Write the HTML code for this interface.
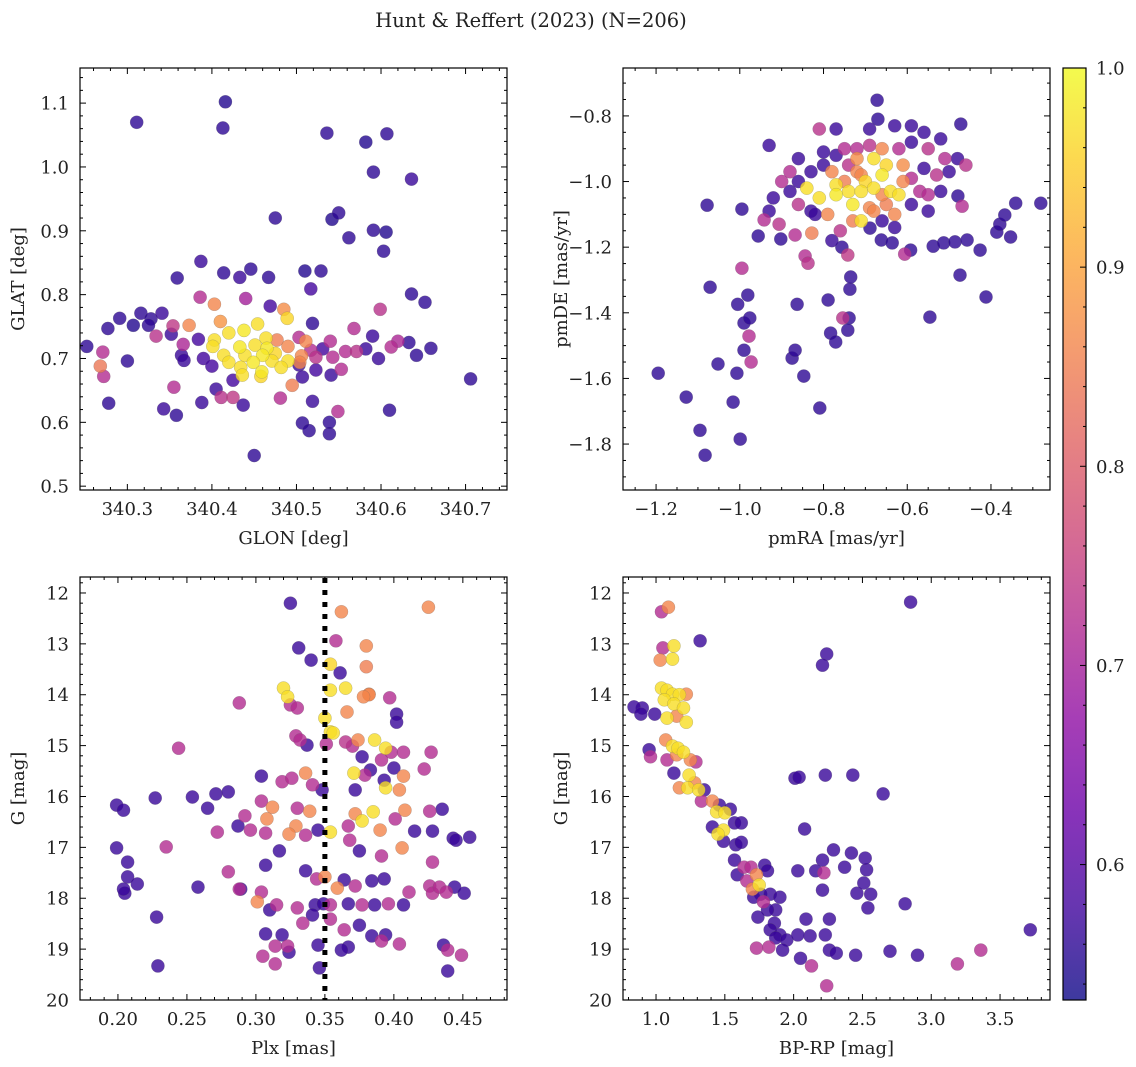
<!DOCTYPE html>
<html><head><meta charset="utf-8">
<style>
html,body{margin:0;padding:0;background:#fff;}
svg{display:block;font-family:"DejaVu Serif","Liberation Serif",serif;}
</style></head>
<body>
<svg id="fig" width="1136" height="1067" viewBox="0 0 1136 1067">
<text x="531" y="27" text-anchor="middle" font-size="19.5" fill="#222">Hunt &amp; Reffert (2023) (N=206)</text>
</svg>
<script>
// ---- Colour scale ----
const cbTicks = [0.6, 0.7, 0.8, 0.9, 1.0];
const vMin = 0.532, vMax = 1.0;

// ---- Panel: GLON / GLAT ----
const tlX = [340.311,340.416,340.413,340.536,340.582,340.607,340.591,340.636,340.475,340.542,340.550,340.562,340.591,340.606,340.603,340.387,340.359,340.414,340.433,340.446,340.467,340.510,340.529,340.517,340.636,340.652,340.386,340.403,340.440,340.469,340.599,340.485,340.291,340.316,340.328,340.341,340.354,340.373,340.410,340.454,340.489,340.519,340.568,340.277,340.307,340.325,340.334,340.352,340.384,340.403,340.420,340.438,340.464,340.477,340.503,340.511,340.540,340.590,340.620,340.633,340.252,340.366,340.401,340.433,340.451,340.465,340.475,340.490,340.517,340.531,340.558,340.571,340.582,340.612,340.659,340.271,340.364,340.390,340.414,340.439,340.460,340.490,340.506,340.523,340.543,340.597,340.642,340.300,340.420,340.449,340.471,340.504,340.367,340.523,340.553,340.268,340.400,340.434,340.459,340.482,340.503,340.272,340.436,340.458,340.541,340.706,340.355,340.405,340.425,340.495,340.507,340.388,340.411,340.425,340.437,340.481,340.278,340.358,340.343,340.519,340.610,340.507,340.515,340.539,340.539,340.549,340.450];
const tlY = [1.070,1.102,1.061,1.053,1.039,1.052,0.992,0.981,0.920,0.918,0.928,0.889,0.901,0.898,0.868,0.852,0.826,0.834,0.827,0.840,0.827,0.837,0.837,0.809,0.801,0.788,0.796,0.785,0.794,0.782,0.777,0.777,0.763,0.771,0.762,0.771,0.751,0.752,0.758,0.754,0.763,0.755,0.747,0.747,0.752,0.752,0.735,0.738,0.730,0.729,0.740,0.744,0.732,0.729,0.733,0.727,0.727,0.735,0.727,0.725,0.719,0.722,0.719,0.718,0.721,0.716,0.708,0.719,0.713,0.715,0.711,0.711,0.715,0.718,0.716,0.710,0.705,0.700,0.705,0.705,0.705,0.696,0.704,0.702,0.702,0.700,0.705,0.696,0.694,0.694,0.696,0.694,0.697,0.682,0.683,0.688,0.688,0.686,0.679,0.686,0.690,0.672,0.674,0.672,0.674,0.668,0.655,0.652,0.666,0.658,0.671,0.631,0.639,0.639,0.627,0.638,0.630,0.611,0.621,0.633,0.619,0.599,0.587,0.582,0.600,0.617,0.548];
const tlP = [0.56,0.55,0.56,0.56,0.55,0.56,0.56,0.57,0.56,0.55,0.56,0.56,0.56,0.55,0.56,0.57,0.56,0.56,0.57,0.56,0.56,0.55,0.56,0.58,0.56,0.56,0.72,0.86,0.70,0.58,0.73,0.87,0.56,0.56,0.56,0.57,0.74,0.86,0.88,0.97,0.96,0.56,0.72,0.56,0.55,0.56,0.73,0.57,0.58,0.97,0.97,0.98,0.97,0.85,0.72,0.86,0.72,0.57,0.71,0.56,0.56,0.71,0.97,0.98,0.97,0.98,0.96,0.86,0.72,0.58,0.72,0.73,0.57,0.72,0.56,0.72,0.57,0.58,0.97,0.97,0.98,0.97,0.86,0.73,0.72,0.57,0.56,0.56,0.97,0.98,0.97,0.86,0.57,0.58,0.72,0.84,0.58,0.97,0.98,0.97,0.57,0.72,0.97,0.96,0.57,0.56,0.72,0.57,0.58,0.85,0.57,0.57,0.73,0.74,0.57,0.72,0.56,0.56,0.57,0.57,0.56,0.56,0.56,0.56,0.56,0.72,0.56];

// ---- Panel: pmRA / pmDE ----
const trX = [-1.195,-1.128,-1.095,-1.083,-1.078,-1.071,-1.052,-0.990,-1.016,-1.007,-1.005,-0.981,-0.999,-0.990,-0.976,-0.978,-0.995,-0.973,-0.956,-0.995,-0.942,-0.906,-0.902,-0.868,-0.875,-0.868,-0.847,-0.863,-0.844,-0.837,-0.828,-0.809,-0.789,-0.783,-0.771,-0.739,-0.737,-0.735,-0.742,-0.754,-0.742,-0.756,-0.689,-0.662,-0.636,-0.606,-0.592,-0.538,-0.513,-0.486,-0.474,-0.457,-0.426,-0.386,-0.379,-0.367,-0.341,-0.281,-0.353,-0.412,-0.546,-0.479,-0.472,-0.469,-0.672,
 -0.84,-0.81,-0.77,-0.77,-0.74,-0.73,-0.71,-0.70,-0.68,-0.66,-0.68,-0.65,-0.72,-0.75,-0.78,-0.72,-0.66,-0.65,-0.63,-0.61,-0.61,-0.69,-0.73,-0.79,-0.76,-0.83,-0.64,-0.62,-0.59,-0.57,-0.52,-0.53,-0.56,-0.50,-0.48,-0.51,-0.55,-0.59,-0.62,-0.66,-0.69,-0.72,-0.75,-0.77,-0.80,-0.83,-0.86,-0.88,-0.90,-0.92,-0.93,-0.74,-0.71,-0.68,-0.71,-0.66,-0.63,-0.78,-0.82,-0.86,-0.86,-0.88,-0.59,-0.55,-0.55,-0.46,-0.52,-0.56,-0.77,-0.81,-0.67,-0.63,-0.69,-0.59,-0.93,-0.80];
const trY = [-1.584,-1.657,-1.758,-1.834,-1.072,-1.322,-1.556,-1.514,-1.672,-1.584,-1.374,-1.346,-1.785,-1.431,-1.416,-1.471,-1.264,-1.550,-1.166,-1.084,-1.117,-1.130,-1.175,-1.163,-1.538,-1.514,-1.593,-1.374,-1.227,-1.249,-1.157,-1.690,-1.361,-1.462,-1.489,-1.416,-1.328,-1.291,-1.453,-1.416,-1.224,-1.200,-1.142,-1.178,-1.187,-1.221,-1.209,-1.197,-1.187,-1.184,-1.285,-1.178,-1.209,-1.154,-1.130,-1.102,-1.066,-1.066,-1.169,-1.352,-1.413,-1.044,-0.825,-1.075,-0.752,
 -1.02,-1.05,-1.04,-1.01,-1.03,-1.07,-1.03,-1.00,-1.02,-0.98,-0.93,-0.95,-0.97,-1.00,-0.97,-0.93,-1.04,-1.07,-1.10,-1.00,-0.95,-1.08,-1.12,-1.10,-1.15,-1.09,-1.03,-1.04,-0.99,-1.03,-1.03,-0.98,-0.96,-0.97,-0.93,-0.93,-0.90,-0.88,-0.90,-0.90,-0.89,-0.90,-0.90,-0.92,-0.95,-0.97,-1.00,-1.03,-1.00,-1.05,-1.09,-0.95,-0.98,-1.09,-1.12,-1.12,-1.14,-1.18,-1.10,-1.07,-0.93,-0.97,-1.07,-1.09,-1.04,-0.95,-0.87,-0.85,-0.84,-0.84,-0.81,-0.83,-0.84,-0.83,-0.89,-0.91];
const trP = [0.56,0.56,0.56,0.56,0.56,0.56,0.56,0.56,0.56,0.56,0.56,0.56,0.56,0.56,0.56,0.72,0.72,0.72,0.56,0.56,0.72,0.73,0.56,0.72,0.56,0.56,0.56,0.56,0.72,0.73,0.85,0.56,0.56,0.56,0.56,0.56,0.56,0.56,0.56,0.73,0.74,0.56,0.56,0.56,0.56,0.72,0.56,0.56,0.56,0.56,0.56,0.56,0.56,0.56,0.56,0.56,0.56,0.56,0.56,0.56,0.56,0.56,0.56,0.72,0.56,
 0.97,0.97,0.98,0.97,0.97,0.98,0.97,0.96,0.97,0.98,0.97,0.96,0.86,0.85,0.86,0.87,0.86,0.85,0.86,0.86,0.87,0.86,0.85,0.86,0.73,0.57,0.97,0.97,0.72,0.72,0.57,0.73,0.57,0.57,0.57,0.72,0.73,0.57,0.72,0.86,0.73,0.72,0.72,0.57,0.57,0.57,0.57,0.57,0.72,0.57,0.57,0.73,0.86,0.86,0.97,0.57,0.57,0.57,0.57,0.73,0.57,0.72,0.57,0.57,0.72,0.73,0.57,0.57,0.57,0.73,0.56,0.57,0.57,0.57,0.57,0.57];

// ---- Panel: Plx / G ----
const blX = [0.325,0.362,0.425,0.331,0.340,0.354,0.358,0.361,0.325,0.354,0.365,0.380,0.380,0.382,0.320,0.323,0.288,0.350,0.366,0.354,0.330,0.382,0.378,0.397,0.402,0.402,0.356,0.351,0.337,0.329,0.332,0.244,0.374,0.365,0.370,0.386,0.394,0.391,0.377,0.398,0.407,0.427,0.400,0.383,0.371,0.379,0.394,0.372,0.404,0.393,0.407,0.422,0.271,0.304,0.319,0.326,0.336,0.304,0.341,0.348,0.254,0.227,0.199,0.204,0.280,0.265,0.292,0.312,0.308,0.296,0.329,0.330,0.339,0.367,0.372,0.377,0.385,0.390,0.401,0.408,0.426,0.428,0.443,0.455,0.415,0.435,0.272,0.287,0.307,0.317,0.324,0.336,0.345,0.354,0.368,0.375,0.391,0.406,0.428,0.445,0.199,0.235,0.258,0.280,0.307,0.207,0.207,0.205,0.214,0.204,0.288,0.304,0.336,0.344,0.350,0.359,0.364,0.372,0.384,0.393,0.411,0.426,0.428,0.228,0.289,0.301,0.310,0.315,0.330,0.343,0.349,0.354,0.367,0.377,0.386,0.396,0.407,0.433,0.438,0.444,0.451,0.307,0.319,0.334,0.341,0.354,0.364,0.375,0.384,0.394,0.314,0.323,0.324,0.345,0.346,0.367,0.391,0.404,0.436,0.229,0.305,0.314,0.362,0.439,0.449,0.439];
const blY = [12.20,12.37,12.28,13.08,13.32,13.40,12.94,13.57,14.20,13.91,13.87,13.04,13.45,13.99,13.87,14.04,14.16,14.46,14.34,14.73,14.26,14.00,14.04,14.06,14.38,14.54,14.75,14.97,14.99,14.81,14.89,15.05,14.89,14.93,15.01,14.89,15.05,15.28,15.22,15.13,15.13,15.13,15.44,15.48,15.54,15.58,15.83,15.87,15.87,15.68,15.60,15.46,15.95,15.60,15.71,15.64,15.54,16.09,15.77,15.87,16.01,16.03,16.17,16.27,15.91,16.23,16.38,16.21,16.44,16.66,16.58,16.23,16.29,16.58,16.34,16.48,16.30,16.66,16.44,16.27,16.29,16.68,16.82,16.80,16.68,16.25,16.70,16.58,16.72,17.07,16.74,16.76,16.66,16.70,16.86,17.07,17.17,17.01,17.29,16.86,17.01,16.99,17.78,17.48,17.35,17.29,17.58,17.90,17.72,17.82,17.82,17.88,17.46,17.62,17.58,17.80,17.64,17.76,17.66,17.62,17.88,17.76,17.90,18.37,17.82,18.07,18.23,18.13,18.19,18.13,18.11,18.13,18.11,18.13,18.13,18.11,18.13,17.78,17.88,17.78,17.90,18.70,18.72,18.49,18.33,18.41,18.62,18.53,18.74,18.72,18.94,18.94,19.06,18.92,19.37,18.96,18.84,18.90,18.92,19.33,19.14,19.29,19.02,19.02,19.12,19.43,19.72];
const blP = [0.57,0.86,0.86,0.57,0.57,0.96,0.72,0.57,0.72,0.97,0.97,0.86,0.85,0.86,0.97,0.97,0.72,0.97,0.86,0.97,0.72,0.86,0.86,0.72,0.57,0.57,0.97,0.72,0.57,0.72,0.72,0.72,0.86,0.73,0.72,0.97,0.97,0.72,0.57,0.72,0.72,0.72,0.57,0.57,0.97,0.72,0.97,0.57,0.86,0.57,0.86,0.72,0.57,0.57,0.72,0.72,0.86,0.72,0.72,0.57,0.57,0.57,0.57,0.57,0.57,0.57,0.72,0.86,0.86,0.72,0.86,0.72,0.86,0.72,0.86,0.97,0.97,0.86,0.72,0.86,0.72,0.57,0.57,0.57,0.57,0.57,0.72,0.57,0.72,0.57,0.86,0.72,0.57,0.97,0.72,0.57,0.72,0.86,0.72,0.57,0.57,0.72,0.57,0.72,0.57,0.57,0.57,0.57,0.57,0.57,0.72,0.72,0.57,0.72,0.86,0.86,0.57,0.72,0.57,0.57,0.72,0.72,0.72,0.57,0.57,0.86,0.57,0.72,0.72,0.57,0.57,0.72,0.57,0.72,0.57,0.72,0.57,0.72,0.72,0.57,0.57,0.57,0.57,0.72,0.57,0.72,0.72,0.57,0.57,0.57,0.72,0.72,0.57,0.57,0.57,0.57,0.72,0.72,0.57,0.57,0.72,0.72,0.57,0.72,0.72,0.57,0.72,0.57,0.72];

// ---- Panel: BP-RP / G ----
const brX = [1.04,1.09,1.05,1.13,1.03,1.12,1.32,1.04,1.08,1.12,1.17,1.22,1.06,1.13,1.20,0.90,0.99,1.08,1.15,1.22,1.07,1.12,1.16,1.20,1.15,0.96,1.08,1.25,1.29,0.95,1.13,1.24,1.28,1.23,1.31,1.35,1.17,1.41,1.46,1.33,1.44,1.50,1.54,1.49,1.45,1.41,1.57,1.62,1.49,1.58,1.62,1.57,1.64,1.59,1.69,1.73,1.66,1.75,1.79,1.81,1.70,1.76,1.83,1.71,1.90,1.87,1.81,1.78,1.74,1.86,1.83,1.90,1.87,1.95,1.82,1.73,1.92,2.12,2.03,2.23,2.26,2.09,2.26,2.13,2.05,2.24,2.31,2.45,0.84,0.89,
 2.24,2.21,2.01,2.04,2.23,2.08,2.65,2.43,2.37,2.21,2.16,2.22,2.03,2.29,2.42,2.46,2.51,2.53,2.56,2.54,2.21,2.52,2.70,2.90,3.19,3.36,3.72,2.81,2.85];
const brY = [12.37,12.28,13.08,13.04,13.32,13.30,12.94,13.87,13.91,13.99,14.00,13.99,14.10,14.18,14.26,14.26,14.38,14.46,14.42,14.54,14.89,15.01,15.05,15.13,15.18,15.22,15.28,15.28,15.32,15.08,15.54,15.58,15.73,15.83,15.87,15.87,15.83,16.09,16.17,16.09,16.30,16.32,16.25,16.66,16.74,16.60,16.52,16.52,16.88,16.95,16.90,17.25,17.39,17.54,17.39,17.54,17.66,17.74,17.35,17.46,17.82,17.92,17.92,17.98,17.98,18.23,18.23,18.07,18.37,18.49,18.62,18.72,18.78,18.82,18.96,18.98,19.02,18.74,18.72,18.72,18.41,18.41,19.02,19.33,19.18,19.72,19.08,19.12,14.24,14.38,
 13.20,13.42,15.64,15.62,15.58,16.64,15.95,15.58,17.39,17.25,17.46,17.50,17.46,17.05,17.11,17.90,17.70,17.44,17.92,18.19,17.84,17.21,19.04,19.12,19.29,19.02,18.62,18.11,12.18];
const brP = [0.72,0.86,0.72,0.97,0.86,0.97,0.57,0.97,0.97,0.97,0.97,0.86,0.97,0.97,0.97,0.57,0.57,0.97,0.86,0.97,0.86,0.97,0.97,0.97,0.86,0.72,0.72,0.86,0.72,0.57,0.57,0.97,0.86,0.97,0.97,0.57,0.86,0.86,0.57,0.72,0.97,0.97,0.57,0.97,0.97,0.57,0.57,0.57,0.57,0.57,0.57,0.57,0.72,0.57,0.72,0.86,0.72,0.97,0.57,0.57,0.86,0.57,0.57,0.57,0.57,0.57,0.57,0.72,0.57,0.57,0.57,0.57,0.57,0.57,0.72,0.72,0.57,0.57,0.57,0.57,0.57,0.57,0.57,0.72,0.57,0.72,0.57,0.57,0.57,0.57,
 0.57,0.57,0.57,0.57,0.57,0.57,0.57,0.57,0.57,0.57,0.57,0.72,0.57,0.57,0.57,0.57,0.57,0.57,0.57,0.57,0.57,0.57,0.57,0.57,0.72,0.72,0.57,0.57,0.57];

const plxCut = [0.350];

// ---- helpers ----
const NS = "http://www.w3.org/2000/svg";
const svg = document.getElementById('fig');
const FS = 18;
function mk(tag, attrs, parent){
  const e = document.createElementNS(NS, tag);
  for (const k in attrs) e.setAttribute(k, attrs[k]);
  (parent||svg).appendChild(e);
  return e;
}
const plasma = [[13,8,135],[65,4,157],[106,0,168],[143,13,164],[177,42,144],[204,71,120],[225,100,98],[242,132,75],[252,166,54],[252,206,37],[240,249,33]];
function cmap(v){
  let t = (v - vMin)/(vMax - vMin); t = Math.max(0, Math.min(1, t));
  const f = t*10, i = Math.min(9, Math.floor(f)), r = f - i;
  const a = plasma[i], b = plasma[i+1];
  return 'rgb(' + [0,1,2].map(k => Math.round(a[k] + (b[k]-a[k])*r)).join(',') + ')';
}
function fmt(v, d){ const s = v.toFixed(d); return s.replace('-', '\u2212'); }

function panel(cfg){
  const g = mk('g', {});
  
  
  const {x0,x1,y0,y1,xmin,xmax,ymin,ymax,invY} = cfg;
  const sx = v => x0 + (v - xmin)/(xmax - xmin)*(x1 - x0);
  const sy = v => invY ? y0 + (v - ymin)/(ymax - ymin)*(y1 - y0) : y1 - (v - ymin)/(ymax - ymin)*(y1 - y0);
  const idx = cfg.xs.map((_, i) => i).sort((a, b) => cfg.ps[a] - cfg.ps[b]);
  const pg = mk('g', {}, g);
  
  
  idx.forEach(i => {
    const c = mk('circle', {cx: sx(cfg.xs[i]).toFixed(1), cy: sy(cfg.ys[i]).toFixed(1), r: 6.6, fill: cmap(cfg.ps[i]), 'fill-opacity': 0.8, stroke: '#666', 'stroke-opacity': 0.5, 'stroke-width': 0.4}, pg);
    
    
  });
  if (cfg.extra) cfg.extra(g, sx, sy);
  const fr = mk('rect', {x: x0, y: y0, width: x1 - x0, height: y1 - y0, fill: 'none', stroke: '#000', 'stroke-width': 1.2}, g);
  
  
  const tk = mk('g', {stroke: '#000', 'stroke-width': 1}, g);
  const eps = 1e-9;
  const xStart = Math.ceil(xmin/cfg.xminor - eps)*cfg.xminor;
  for (let v = xStart; v <= xmax + eps; v += cfg.xminor){
    const isMaj = Math.abs(v/cfg.xmajor - Math.round(v/cfg.xmajor)) < 1e-6;
    const L = isMaj ? 6 : 3, X = sx(v);
    mk('line', {x1: X, y1: y1, x2: X, y2: y1 - L}, tk);
    mk('line', {x1: X, y1: y0, x2: X, y2: y0 + L}, tk);
  }
  const yStart = Math.ceil(ymin/cfg.yminor - eps)*cfg.yminor;
  for (let v = yStart; v <= ymax + eps; v += cfg.yminor){
    const isMaj = Math.abs(v/cfg.ymajor - Math.round(v/cfg.ymajor)) < 1e-6;
    const L = isMaj ? 6 : 3, Y = sy(v);
    mk('line', {x1: x0, y1: Y, x2: x0 + L, y2: Y}, tk);
    mk('line', {x1: x1, y1: Y, x2: x1 - L, y2: Y}, tk);
  }
  cfg.xticks.forEach(v => {
    const t = mk('text', {x: sx(v), y: y1 + 25, 'text-anchor': 'middle', 'font-size': FS, fill: '#222'}, g);
    t.textContent = fmt(v, cfg.xdec);
    
    
  });
  cfg.yticks.forEach(v => {
    const t = mk('text', {x: x0 - 11, y: sy(v) + 6.5, 'text-anchor': 'end', 'font-size': FS, fill: '#222'}, g);
    t.textContent = fmt(v, cfg.ydec);
    
    
  });
  const xl = mk('text', {x: (x0 + x1)/2, y: y1 + 54, 'text-anchor': 'middle', 'font-size': FS, fill: '#222'}, g);
  xl.textContent = cfg.xlabel;
  
  
  const yx = x0 - 56, yy = (y0 + y1)/2;
  const yl = mk('text', {x: yx, y: yy, 'text-anchor': 'middle', 'font-size': FS, fill: '#222', transform: 'rotate(-90 ' + yx + ' ' + yy + ')'}, g);
  yl.textContent = cfg.ylabel;
  
  
}

panel({name: 'glon-glat-panel', x0: 80, x1: 507, y0: 68, y1: 490, xmin: 340.244, xmax: 340.749, ymin: 0.494, ymax: 1.155,
  xs: tlX, ys: tlY, ps: tlP, xmajor: 0.1, xminor: 0.02, ymajor: 0.1, yminor: 0.02,
  xticks: [340.3,340.4,340.5,340.6,340.7], xdec: 1, yticks: [0.5,0.6,0.7,0.8,0.9,1.0,1.1], ydec: 1,
  xlabel: 'GLON [deg]', ylabel: 'GLAT [deg]'});
panel({name: 'pm-panel', x0: 623, x1: 1050, y0: 68, y1: 490, xmin: -1.279, xmax: -0.259, ymin: -1.940, ymax: -0.654,
  xs: trX, ys: trY, ps: trP, xmajor: 0.2, xminor: 0.05, ymajor: 0.2, yminor: 0.05,
  xticks: [-1.2,-1.0,-0.8,-0.6,-0.4], xdec: 1, yticks: [-1.8,-1.6,-1.4,-1.2,-1.0,-0.8], ydec: 1,
  xlabel: 'pmRA [mas/yr]', ylabel: 'pmDE [mas/yr]'});
panel({name: 'plx-g-panel', x0: 80, x1: 507, y0: 577, y1: 1000, xmin: 0.1725, xmax: 0.482, ymin: 11.686, ymax: 20.0, invY: true,
  xs: blX, ys: blY, ps: blP, xmajor: 0.05, xminor: 0.01, ymajor: 1, yminor: 0.2,
  xticks: [0.20,0.25,0.30,0.35,0.40,0.45], xdec: 2, yticks: [12,13,14,15,16,17,18,19,20], ydec: 0,
  xlabel: 'Plx [mas]', ylabel: 'G [mag]',
  extra: (g, sx, sy) => {
    plxCut.forEach(v => {
      const l = mk('line', {x1: sx(v), x2: sx(v), y1: 578, y2: 1000, stroke: '#000', 'stroke-width': 5, 'stroke-dasharray': '5,7'}, g);
      
      
    });
  }});
panel({name: 'cmd-panel', x0: 623, x1: 1050, y0: 577, y1: 1000, xmin: 0.760, xmax: 3.863, ymin: 11.686, ymax: 20.0, invY: true,
  xs: brX, ys: brY, ps: brP, xmajor: 0.5, xminor: 0.1, ymajor: 1, yminor: 0.2,
  xticks: [1.0,1.5,2.0,2.5,3.0,3.5], xdec: 1, yticks: [12,13,14,15,16,17,18,19,20], ydec: 0,
  xlabel: 'BP-RP [mag]', ylabel: 'G [mag]'});

// ---- colorbar ----
(function(){
  const cx0 = 1063, cx1 = 1086, cy0 = 68, cy1 = 1000;
  const g = mk('g', {});
  
  
  const defs = mk('defs', {}, g);
  const grad = mk('linearGradient', {id: 'cbgrad', x1: 0, y1: 1, x2: 0, y2: 0}, defs);
  for (let i = 0; i <= 20; i++){
    const v = vMin + (vMax - vMin)*i/20;
    mk('stop', {offset: (i/20).toFixed(3), 'stop-color': cmap(v), 'stop-opacity': 0.8}, grad);
  }
  mk('rect', {x: cx0, y: cy0, width: cx1 - cx0, height: cy1 - cy0, fill: 'url(#cbgrad)', stroke: '#000', 'stroke-width': 1.2}, g);
  const sy = v => cy1 - (v - vMin)/(vMax - vMin)*(cy1 - cy0);
  for (let v = 0.54; v <= 1.0001; v += 0.02){
    const isMaj = Math.abs(v*10 - Math.round(v*10)) < 1e-6;
    mk('line', {x1: cx1, x2: cx1 - (isMaj ? 6 : 3), y1: sy(v), y2: sy(v), stroke: '#000', 'stroke-width': 1}, g);
  }
  cbTicks.forEach(v => {
    const t = mk('text', {x: cx1 + 10, y: sy(v) + 6.5, 'font-size': FS, fill: '#222'}, g);
    t.textContent = v.toFixed(1);
    
    
  });
})();
</script>
</body></html>
